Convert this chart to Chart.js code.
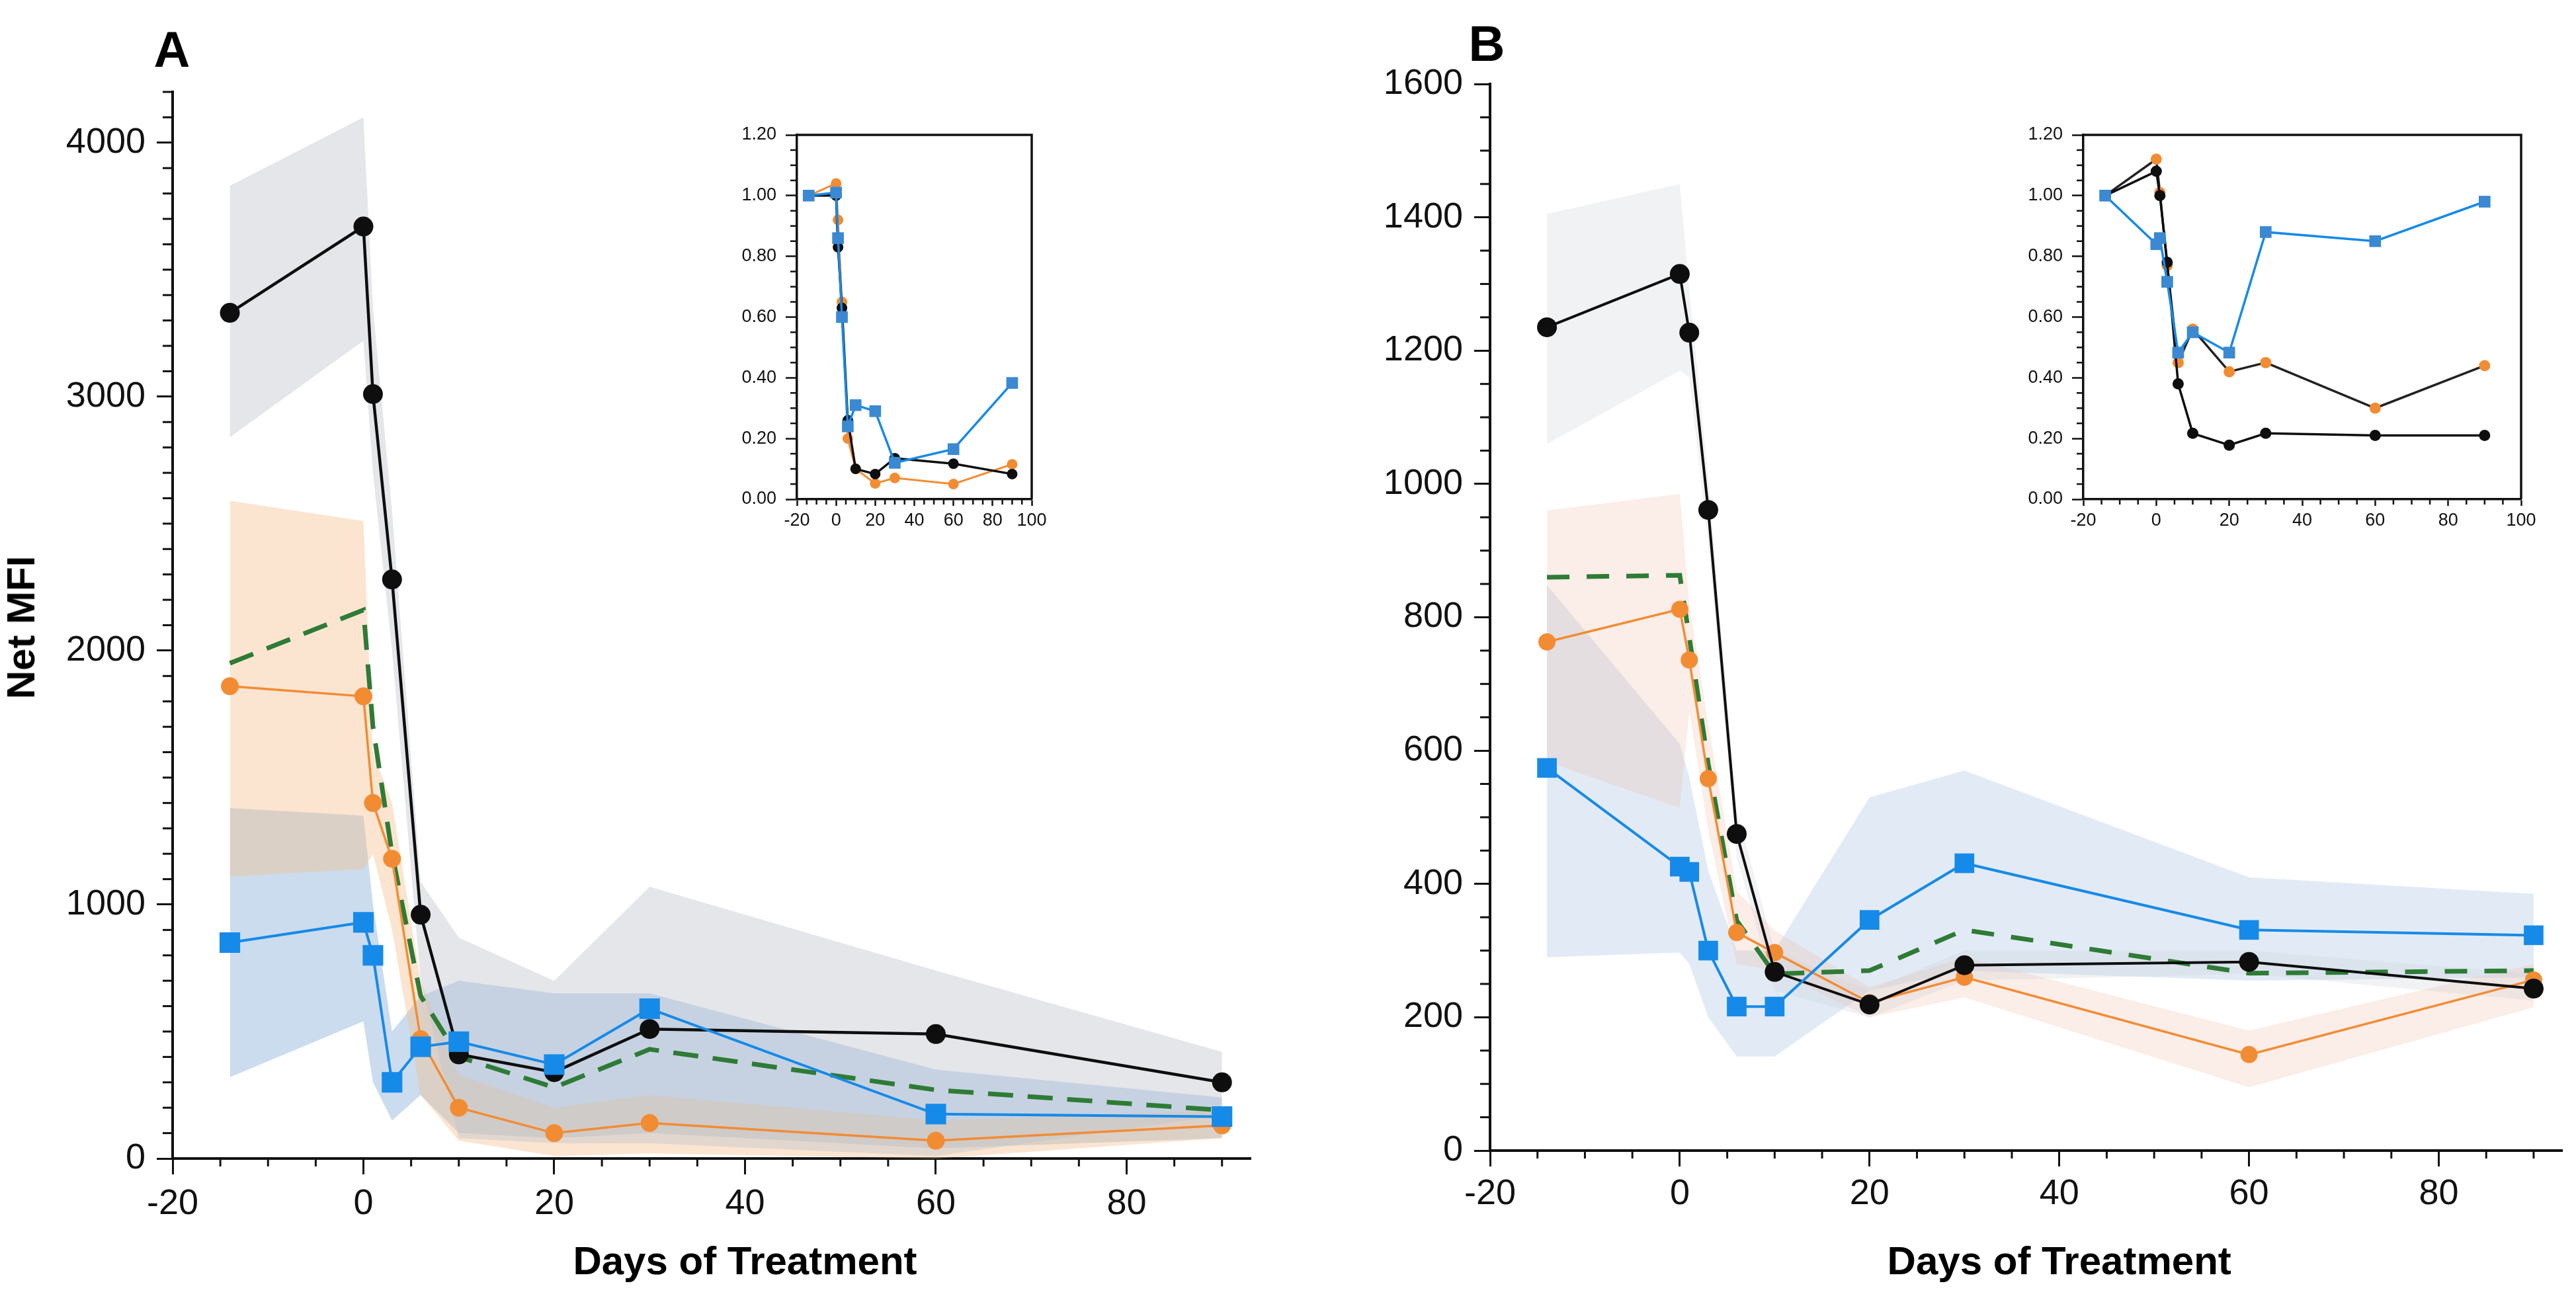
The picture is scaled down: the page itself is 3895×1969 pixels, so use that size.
<!DOCTYPE html>
<html>
<head>
<meta charset="utf-8">
<script src="https://cdn.jsdelivr.net/npm/chart.js@4.4.1/dist/chart.umd.min.js"></script>
<style>
html,body{margin:0;padding:0;background:#ffffff;}
body{position:relative;width:3895px;height:1969px;overflow:hidden;font-family:"Liberation Sans",Arial,Helvetica,sans-serif;}
canvas{position:absolute;}
.t{position:absolute;font-weight:bold;color:#000;white-space:nowrap;line-height:1;transform:translate(-50%,-50%);}
</style>
</head>
<body>
<canvas id="cA" style="left:0px;top:0px" width="1950" height="1969"></canvas>
<canvas id="cB" style="left:1950px;top:0px" width="1945" height="1969"></canvas>
<canvas id="iA" style="left:1100px;top:160px" width="500" height="700"></canvas>
<canvas id="iB" style="left:3040px;top:160px" width="840" height="700"></canvas>
<div class="t" style="left:260px;top:75px;font-size:76px">A</div>
<div class="t" style="left:2248px;top:66px;font-size:76px">B</div>
<div class="t" style="left:32px;top:949px;font-size:60px;transform:translate(-50%,-50%) rotate(-90deg)">Net MFI</div>
<div class="t" id="xtA" style="left:1126px;top:1907px;font-size:60px">Days of Treatment</div>
<div class="t" id="xtB" style="left:3114px;top:1907px;font-size:60px">Days of Treatment</div>
<script>
// ---------------- data ----------------
const days = [-14, 0, 1, 3, 6, 10, 20, 30, 60, 90];

// Panel A (Net MFI)
const aBlack  = [3330, 3670, 3010, 2280, 960, 410, 340, 510, 490, 300];
const aOrange = [1860, 1820, 1400, 1180, 470, 200, 100, 140, 70, 130];
const aBlue   = [850, 930, 800, 300, 440, 460, 370, 590, 175, 165];
const aGreen  = [1950, 2160, 1700, 1200, 640, 400, 280, 430, 270, 190];
const aBlackHi  = [3830, 4100, 3350, 2550, 1090, 870, 700, 1070, 740, 420];
const aBlackLo  = [2840, 3220, 2700, 2000, 700, 80, 60, 60, 10, 170];
const aOrangeHi = [2590, 2510, 1600, 1400, 700, 330, 200, 250, 150, 190];
const aOrangeLo = [1110, 1140, 1200, 900, 250, 70, 10, 20, 0, 80];
const aBlueHi   = [1380, 1350, 1000, 500, 640, 700, 650, 650, 350, 240];
const aBlueLo   = [320, 540, 300, 150, 250, 100, 80, 100, 40, 80];

// Panel B (Net MFI)
const bBlack  = [1235, 1315, 1227, 961, 475, 268, 219, 278, 283, 243];
const bOrange = [763, 812, 736, 558, 327, 297, 222, 260, 144, 256];
const bBlue   = [574, 426, 418, 300, 216, 216, 346, 431, 331, 323];
const bGreen  = [860, 863, 770, 580, 345, 265, 270, 331, 266, 270];
const bBlackHi  = [1405, 1450, 1290, 1010, 510, 300, 240, 300, 300, 265];
const bBlackLo  = [1060, 1170, 1160, 910, 440, 240, 200, 255, 265, 225];
const bOrangeHi = [960, 985, 820, 640, 390, 330, 245, 290, 180, 280];
const bOrangeLo = [583, 514, 660, 480, 280, 270, 200, 230, 95, 215];
const bBlueHi   = [848, 610, 560, 420, 300, 300, 530, 570, 410, 385];
const bBlueLo   = [290, 297, 280, 200, 141, 141, 240, 270, 255, 260];

// Insets (relative values)
const iaBlack  = [1.00, 1.00, 0.83, 0.63, 0.26, 0.10, 0.083, 0.135, 0.117, 0.083];
const iaOrange = [1.00, 1.04, 0.92, 0.65, 0.20, 0.10, 0.052, 0.07, 0.05, 0.115];
const iaBlue   = [1.00, 1.01, 0.86, 0.60, 0.24, 0.31, 0.29, 0.12, 0.165, 0.383];
const ibBlack  = [1.00, 1.08, 1.00, 0.78, 0.38, 0.217, 0.178, 0.217, 0.21, 0.21];
const ibOrange = [1.00, 1.12, 1.01, 0.77, 0.45, 0.56, 0.42, 0.45, 0.30, 0.44];
const ibBlue   = [1.00, 0.84, 0.86, 0.716, 0.483, 0.55, 0.483, 0.88, 0.85, 0.98];

// tick labels
const xTicks      = [-20, 0, 20, 40, 60, 80];
const aYTicks     = [0, 1000, 2000, 3000, 4000];
const bYTicks     = [0, 200, 400, 600, 800, 1000, 1200, 1400, 1600];
const insetXTicks = [-20, 0, 20, 40, 60, 80, 100];
const insetYTicks = [0, 0.2, 0.4, 0.6, 0.8, 1.0, 1.2];

// ---------------- styling ----------------
const FONT = '"Liberation Sans", Arial, Helvetica, sans-serif';
const BLACK = '#0e0e0e', ORANGE = '#F28C33', BLUE = '#168AE8', GREEN = '#2E7B35';
const INBLUE = '#3A89D2';

const pts = arr => days.map((d, i) => ({x: d, y: arr[i]}));

function series(arr, color, style, radius, width, order, extra) {
  return Object.assign({
    data: pts(arr), borderColor: color, backgroundColor: color,
    pointBackgroundColor: color, pointBorderColor: color, pointBorderWidth: 0,
    pointStyle: style, pointRadius: radius, borderWidth: width,
    fill: false, order: order, tension: 0
  }, extra || {});
}
function band(lo, hi, color) {
  return [
    {data: pts(lo), borderWidth: 0, borderColor: 'rgba(0,0,0,0)', pointRadius: 0, fill: false, order: 20},
    {data: pts(hi), borderWidth: 0, borderColor: 'rgba(0,0,0,0)', pointRadius: 0, fill: '-1', backgroundColor: color, order: 20}
  ];
}

function scaleOpts(o) {
  return {
    type: 'linear', min: o.min, max: o.max,
    afterBuildTicks: s => { s.ticks = o.ticks.map(v => ({value: v})); },
    afterFit: s => { if (o.w != null) s.width = o.w; if (o.h != null) s.height = o.h; },
    ticks: {font: {family: FONT, size: o.fs}, color: '#111', padding: o.pad,
            autoSkip: false, maxRotation: 0, minRotation: 0,
            callback: o.fmt || (v => String(v))},
    grid: {display: true, drawOnChartArea: false, drawTicks: true,
           tickLength: o.tl, tickWidth: o.tw, tickColor: '#111'},
    border: {display: true, color: '#111', width: o.bw}
  };
}

function makeMinor(cfg) {
  return {
    id: 'minorTicks',
    afterDraw(chart) {
      const ctx = chart.ctx;
      ctx.save();
      ctx.strokeStyle = '#111';
      ['x', 'y'].forEach(axis => {
        const o = cfg[axis];
        const s = chart.scales[axis];
        ctx.lineWidth = o.width;
        const n0 = Math.ceil(s.min / o.step - 1e-9), n1 = Math.floor(s.max / o.step + 1e-9);
        for (let n = n0; n <= n1; n++) {
          const v = n * o.step;
          const r = v / o.major;
          if (Math.abs(r - Math.round(r)) < 1e-6) continue;
          const p = s.getPixelForValue(v);
          ctx.beginPath();
          if (axis === 'x') { ctx.moveTo(p, s.top); ctx.lineTo(p, s.top + o.len); }
          else { ctx.moveTo(s.right, p); ctx.lineTo(s.right - o.len, p); }
          ctx.stroke();
        }
      });
      ctx.restore();
    }
  };
}
const frame = {
  id: 'frame',
  afterDraw(c) {
    const a = c.chartArea, ctx = c.ctx;
    ctx.save(); ctx.strokeStyle = '#111'; ctx.lineWidth = 3.5;
    ctx.beginPath(); ctx.moveTo(a.left, a.top); ctx.lineTo(a.right, a.top); ctx.lineTo(a.right, a.bottom);
    ctx.stroke(); ctx.restore();
  }
};

function makeChart(id, datasets, cfg, extraPlugins) {
  return new Chart(document.getElementById(id), {
    type: 'line',
    data: {datasets},
    options: {
      responsive: false, animation: false, devicePixelRatio: 1, events: [],
      layout: {padding: {top: cfg.padTop, right: cfg.padRight, left: 0, bottom: 0}},
      plugins: {legend: {display: false}, tooltip: {enabled: false}},
      scales: {x: scaleOpts(cfg.x), y: scaleOpts(cfg.y)}
    },
    plugins: [makeMinor(cfg.minor)].concat(extraPlugins || [])
  });
}

// ---------------- Panel A ----------------
const dsA = [
  series(aBlue, BLUE, 'rect', 22, 4, 1),
  series(aBlack, BLACK, 'circle', 15, 4.5, 2),
  series(aOrange, ORANGE, 'circle', 13.5, 3.5, 3),
  series(aGreen, GREEN, 'line', 0, 7, 4, {pointRadius: 0, borderDash: [38, 22]}),
].concat(band(aBlackLo, aBlackHi, 'rgba(190,196,204,0.42)'))
 .concat(band(aOrangeLo, aOrangeHi, 'rgba(246,190,140,0.40)'))
 .concat(band(aBlueLo, aBlueHi, 'rgba(140,178,218,0.45)'));

const chA = makeChart('cA', dsA, {
  padTop: 139, padRight: 59,
  x: {min: -20, max: 93, ticks: xTicks, h: 1969 - 1752, fs: 54, pad: 13, tl: 24, tw: 3, bw: 4},
  y: {min: 0, max: 4200, ticks: aYTicks, w: 261, fs: 54, pad: 17, tl: 24, tw: 3, bw: 4},
  minor: {x: {step: 5, major: 20, len: 12, width: 3}, y: {step: 100, major: 1000, len: 15, width: 3}}
});

// ---------------- Panel B ----------------
const dsB = [
  series(bBlue, BLUE, 'rect', 21, 4, 1),
  series(bBlack, BLACK, 'circle', 15, 4, 2),
  series(bOrange, ORANGE, 'circle', 13, 3.5, 3),
  series(bGreen, GREEN, 'line', 0, 7, 4, {pointRadius: 0, borderDash: [34, 26]}),
].concat(band(bBlackLo, bBlackHi, 'rgba(200,204,212,0.25)'))
 .concat(band(bOrangeLo, bOrangeHi, 'rgba(240,185,160,0.25)'))
 .concat(band(bBlueLo, bBlueHi, 'rgba(165,192,225,0.32)'));

const chB = makeChart('cB', dsB, {
  padTop: 127, padRight: 1945 - (3879 - 1950),
  x: {min: -20, max: 93, ticks: xTicks, h: 1969 - 1740, fs: 54, pad: 10, tl: 24, tw: 3, bw: 4},
  y: {min: 0, max: 1600, ticks: bYTicks, w: 2253 - 1950, fs: 54, pad: 17, tl: 24, tw: 3, bw: 4},
  minor: {x: {step: 5, major: 20, len: 12, width: 3}, y: {step: 50, major: 200, len: 15, width: 3}}
});

// ---------------- Insets ----------------
const INSET_TOP = 204, INSET_BOTTOM = 755, ICANVAS_TOP = 160, ICANVAS_H = 700;
const insetCfg = (left, right, canvasLeft, canvasW) => ({
  padTop: INSET_TOP - ICANVAS_TOP, padRight: canvasW - (right - canvasLeft),
  x: {min: -20, max: 100, ticks: insetXTicks, h: ICANVAS_TOP + ICANVAS_H - INSET_BOTTOM, fs: 27, pad: 6, tl: 10, tw: 2.5, bw: 3.5},
  y: {min: 0, max: 1.2, ticks: insetYTicks, w: left - canvasLeft, fs: 27, pad: 14, tl: 17, tw: 2.5, bw: 3.5,
      fmt: v => Number(v).toFixed(2)},
  minor: {x: {step: 5, major: 20, len: 8, width: 2.5}, y: {step: 0.05, major: 0.2, len: 10, width: 2.5}}
});

const dsIA = [
  series(iaBlue, BLUE, 'rect', 12.5, 3.5, 1, {pointBackgroundColor: INBLUE, pointBorderColor: INBLUE}),
  series(iaBlack, BLACK, 'circle', 8, 3.5, 2),
  series(iaOrange, ORANGE, 'circle', 8, 3, 3)
];
makeChart('iA', dsIA, insetCfg(1205, 1560, 1100, 500), [frame]);

const dsIB = [
  series(ibBlue, BLUE, 'rect', 12.5, 3.5, 1, {pointBackgroundColor: INBLUE, pointBorderColor: INBLUE}),
  series(ibBlack, BLACK, 'circle', 8.5, 3.5, 2),
  series(ibOrange, '#222222', 'circle', 8.5, 3.5, 3, {pointBackgroundColor: ORANGE, pointBorderColor: ORANGE})
];
makeChart('iB', dsIB, insetCfg(3150, 3812, 3040, 840), [frame]);

// axis titles centred under the 40-day tick
document.getElementById('xtA').style.left = chA.scales.x.getPixelForValue(40) + 'px';
document.getElementById('xtB').style.left = (1950 + chB.scales.x.getPixelForValue(40)) + 'px';
</script>
</body>
</html>
